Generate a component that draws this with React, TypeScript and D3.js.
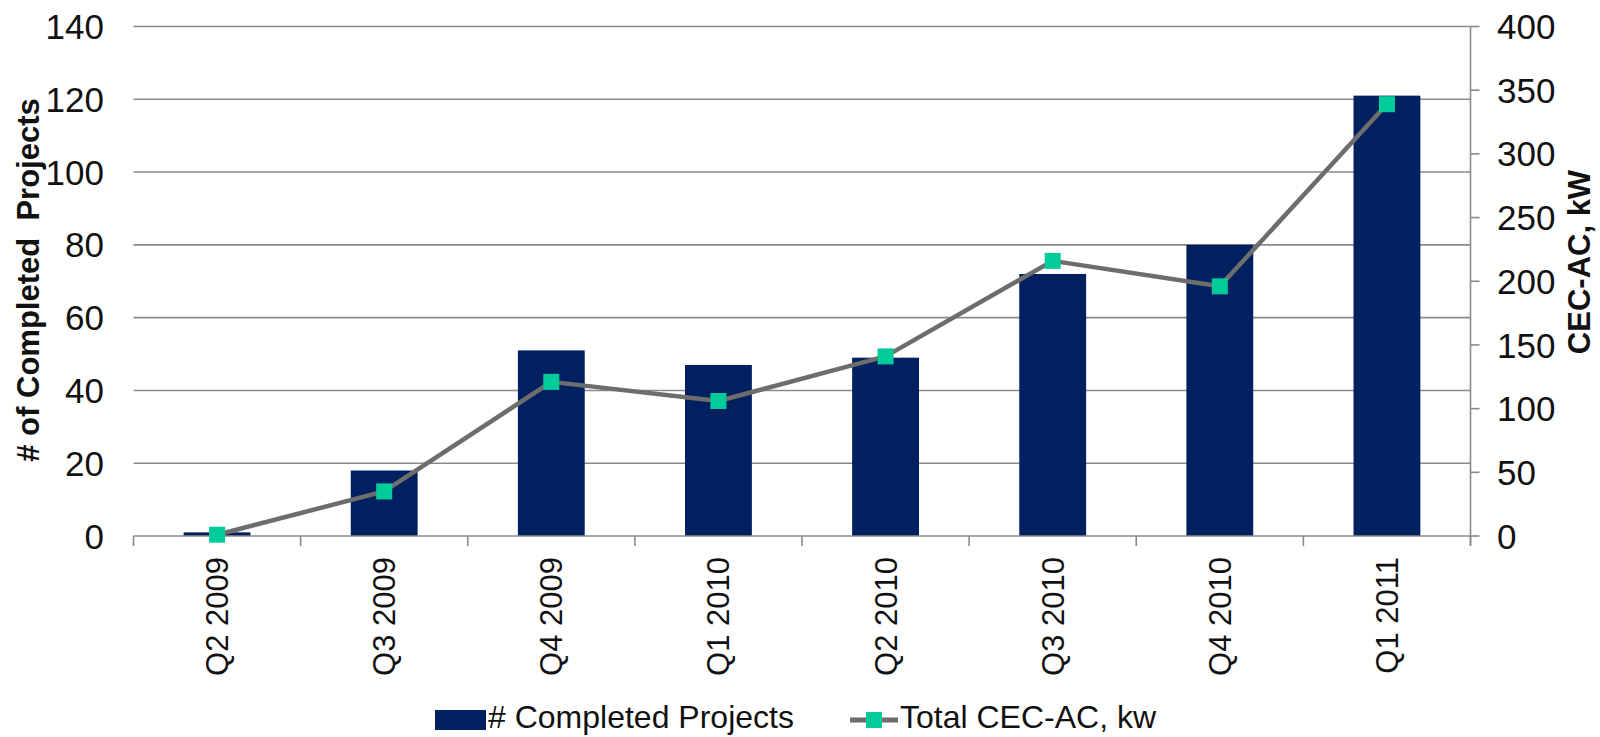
import { useEffect, useRef } from "react";
import * as d3 from "d3";

const quarters = ["Q2 2009", "Q3 2009", "Q4 2009", "Q1 2010", "Q2 2010", "Q3 2010", "Q4 2010", "Q1 2011"];
const completedProjects = [1, 18, 51, 47, 49, 72, 80, 121];
const totalCecAc = [1, 35, 121, 106, 141, 216, 196, 339];
const leftTicks = [0, 20, 40, 60, 80, 100, 120, 140];
const rightTicks = [0, 50, 100, 150, 200, 250, 300, 350, 400];

function App() {
  const ref = useRef<SVGSVGElement | null>(null);

  useEffect(() => {
    const width = 1600;
    const height = 737;
    const left = 133.5;
    const right = 1470.5;
    const top = 26.5;
    const bottom = 536;
    const font = "'Liberation Sans', Arial, sans-serif";

    const svg = d3.select(ref.current);
    svg.selectAll("*").remove();
    svg.attr("width", width).attr("height", height);

    // scales
    const x = d3.scaleBand<string>().domain(quarters).range([left, right]);
    const yLeft = d3.scaleLinear().domain([0, 140]).range([bottom, top]);
    const yRight = d3.scaleLinear().domain([0, 400]).range([bottom, top]);
    const barW = x.bandwidth() * 0.4;

    // gridlines
    svg
      .selectAll("line.grid")
      .data(leftTicks.filter((d) => d > 0))
      .enter()
      .append("line")
      .attr("x1", left)
      .attr("x2", right)
      .attr("y1", (d) => yLeft(d))
      .attr("y2", (d) => yLeft(d))
      .attr("stroke", "#8a8a8a")
      .attr("stroke-width", 1.6);

    // left tick labels
    svg
      .selectAll("text.lt")
      .data(leftTicks)
      .enter()
      .append("text")
      .attr("x", 104)
      .attr("y", (d) => yLeft(d))
      .attr("dy", "0.36em")
      .attr("text-anchor", "end")
      .attr("font-family", font)
      .attr("font-size", 35)
      .attr("fill", "#111")
      .text((d) => d);

    // bars
    svg
      .selectAll("rect.bar")
      .data(completedProjects)
      .enter()
      .append("rect")
      .attr("x", (d, i) => x(quarters[i])! + (x.bandwidth() - barW) / 2)
      .attr("y", (d) => yLeft(d))
      .attr("width", barW)
      .attr("height", (d) => bottom - yLeft(d))
      .attr("fill", "#002060");

    // bottom axis
    svg
      .append("line")
      .attr("x1", left)
      .attr("x2", right)
      .attr("y1", bottom)
      .attr("y2", bottom)
      .attr("stroke", "#8a8a8a")
      .attr("stroke-width", 1.6);

    const bounds = quarters.map((q) => x(q)!).concat([right]);
    svg
      .selectAll("line.xtick")
      .data(bounds)
      .enter()
      .append("line")
      .attr("x1", (d) => d)
      .attr("x2", (d) => d)
      .attr("y1", bottom)
      .attr("y2", bottom + 10)
      .attr("stroke", "#8a8a8a")
      .attr("stroke-width", 1.6);

    svg
      .selectAll("text.xl")
      .data(quarters)
      .enter()
      .append("text")
      .attr("transform", (d) => `translate(${x(d)! + x.bandwidth() / 2 + 11},557) rotate(-90)`)
      .attr("text-anchor", "end")
      .attr("font-family", font)
      .attr("font-size", 31)
      .attr("fill", "#111")
      .text((d) => d);

    // right axis
    svg
      .append("line")
      .attr("x1", right)
      .attr("x2", right)
      .attr("y1", top)
      .attr("y2", bottom + 10)
      .attr("stroke", "#8a8a8a")
      .attr("stroke-width", 1.6);

    svg
      .selectAll("line.rtick")
      .data(rightTicks)
      .enter()
      .append("line")
      .attr("x1", right)
      .attr("x2", right + 9)
      .attr("y1", (d) => yRight(d))
      .attr("y2", (d) => yRight(d))
      .attr("stroke", "#8a8a8a")
      .attr("stroke-width", 1.6);

    svg
      .selectAll("text.rt")
      .data(rightTicks)
      .enter()
      .append("text")
      .attr("x", 1497)
      .attr("y", (d) => yRight(d))
      .attr("dy", "0.36em")
      .attr("font-family", font)
      .attr("font-size", 35)
      .attr("fill", "#111")
      .text((d) => d);

    // line series
    const line = d3
      .line<number>()
      .x((d, i) => x(quarters[i])! + x.bandwidth() / 2)
      .y((d) => yRight(d));

    svg
      .append("path")
      .datum(totalCecAc)
      .attr("fill", "none")
      .attr("stroke", "#6d6d6d")
      .attr("stroke-width", 4.5)
      .attr("stroke-linejoin", "round")
      .attr("d", line);

    svg
      .selectAll("rect.marker")
      .data(totalCecAc)
      .enter()
      .append("rect")
      .attr("x", (d, i) => x(quarters[i])! + x.bandwidth() / 2 - 8)
      .attr("y", (d) => yRight(d) - 8)
      .attr("width", 16)
      .attr("height", 16)
      .attr("fill", "#00cc99");

    // axis titles
    svg
      .append("text")
      .attr("transform", "translate(39,280) rotate(-90)")
      .attr("text-anchor", "middle")
      .attr("font-family", font)
      .attr("font-size", 31)
      .attr("font-weight", "bold")
      .attr("fill", "#111")
      .style("white-space", "pre")
      .text("# of Completed  Projects");

    svg
      .append("text")
      .attr("transform", "translate(1590,262) rotate(-90)")
      .attr("text-anchor", "middle")
      .attr("font-family", font)
      .attr("font-size", 31)
      .attr("font-weight", "bold")
      .attr("fill", "#111")
      .text("CEC-AC, kW");

    // legend
    const legend = svg.append("g");
    legend
      .append("rect")
      .attr("x", 435)
      .attr("y", 710)
      .attr("width", 51)
      .attr("height", 20)
      .attr("fill", "#002060");
    legend
      .append("text")
      .attr("x", 488)
      .attr("y", 717)
      .attr("dy", "0.35em")
      .attr("font-family", font)
      .attr("font-size", 32)
      .attr("fill", "#111")
      .text("# Completed Projects");
    legend
      .append("line")
      .attr("x1", 850)
      .attr("x2", 898)
      .attr("y1", 720)
      .attr("y2", 720)
      .attr("stroke", "#6d6d6d")
      .attr("stroke-width", 5);
    legend
      .append("rect")
      .attr("x", 866)
      .attr("y", 712)
      .attr("width", 16)
      .attr("height", 16)
      .attr("fill", "#00cc99");
    legend
      .append("text")
      .attr("x", 900)
      .attr("y", 717)
      .attr("dy", "0.35em")
      .attr("font-family", font)
      .attr("font-size", 32)
      .attr("fill", "#111")
      .text("Total CEC-AC, kw");
  }, []);

  return <svg ref={ref} style={{ position: "absolute", left: 0, top: 0, background: "#fff" }}></svg>;
}

export default App;
